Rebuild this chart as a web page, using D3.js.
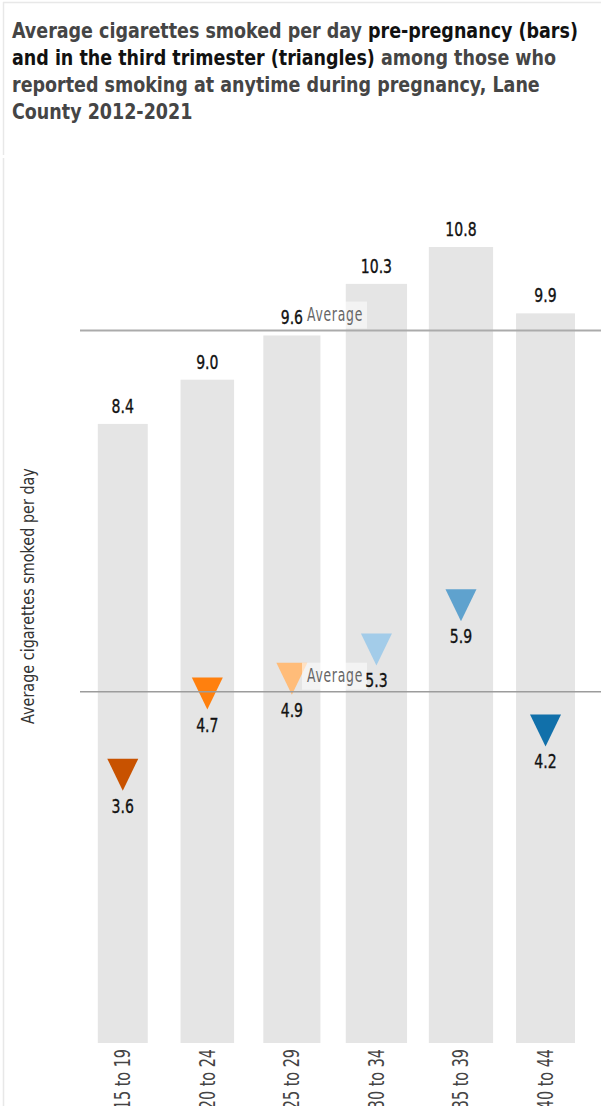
<!DOCTYPE html>
<html>
<head>
<meta charset="utf-8">
<script src="https://cdn.jsdelivr.net/npm/d3@7"></script>
<style>
  html, body { margin: 0; padding: 0; background: #fff; }
  svg { display: block; }
  text { font-family: "DejaVu Sans", "Liberation Sans", sans-serif; font-stretch: condensed; }
</style>
</head>
<body>
<svg id="chart" width="601" height="1106"></svg>
<script>
// Age groups and average cigarettes per day
const ageGroups = ["15 to 19", "20 to 24", "25 to 29", "30 to 34", "35 to 39", "40 to 44"];
const prePregnancy = [8.4, 9.0, 9.6, 10.3, 10.8, 9.9];
const thirdTrimester = [3.6, 4.7, 4.9, 5.3, 5.9, 4.2];
const triangleColors = ["#c85200", "#ff800e", "#ffbc79", "#a3cce9", "#5fa2ce", "#1170aa"];
const yTicks = [0, 12];

const titleLines = [
  [["Average cigarettes smoked per day ", "#454545"], ["pre-pregnancy (bars)", "#111"]],
  [["and in the third trimester (triangles)", "#111"], [" among those who", "#454545"]],
  [["reported smoking at anytime during pregnancy, Lane", "#454545"]],
  [["County 2012-2021", "#454545"]]
];

const svg = d3.select("#chart");

// narrow a text horizontally around its own anchor point
function squeeze(sel, s) {
  sel.each(function () {
    const t = d3.select(this);
    const x = +t.attr("x") || 0, y = +t.attr("y") || 0;
    const prev = t.attr("transform") || "";
    t.attr("transform", `${prev} translate(${x},${y}) scale(${s},1) translate(${-x},${-y})`);
  });
}
// squeeze a text so its width becomes w
function fitWidth(sel, w) {
  sel.each(function () {
    squeeze(d3.select(this), w / this.getComputedTextLength());
  });
}

// frame lines around title and chart panes
svg.append("line").attr("x1", 3).attr("x2", 601).attr("y1", 2.5).attr("y2", 2.5)
  .attr("stroke", "#e8e8e8").attr("stroke-width", 1.5);
svg.append("line").attr("x1", 3.5).attr("x2", 3.5).attr("y1", 2).attr("y2", 155)
  .attr("stroke", "#e8e8e8").attr("stroke-width", 1.5);
svg.append("line").attr("x1", 3.5).attr("x2", 3.5).attr("y1", 158).attr("y2", 1106)
  .attr("stroke", "#e8e8e8").attr("stroke-width", 1.5);

// title
const title = svg.append("g");
const titleTexts = titleLines.map((parts, i) => {
  const t = title.append("text")
    .attr("x", 12).attr("y", 38 + i * 27)
    .attr("font-weight", "bold").attr("font-size", 21.5);
  parts.forEach(([s, c]) => t.append("tspan").attr("fill", c).text(s));
  return t;
});
const titleScale = 566 / titleTexts[0].node().getComputedTextLength();
titleTexts.forEach(t => squeeze(t, titleScale));

// scales
const x = d3.scaleBand().domain(ageGroups).range([80.5, 587.8]).padding(0);
const y = d3.scaleLinear().domain(d3.extent(yTicks)).range([1043, 158.6]);
const barWidth = d3.scaleLinear().domain([0, 1]).range([0, 5.95]);
const cx = d => x(d) + x.bandwidth() / 2;

const plot = svg.append("g");

// bars: pre-pregnancy averages (width also scaled by value)
plot.selectAll("rect.bar").data(ageGroups).join("rect")
  .attr("class", "bar")
  .attr("x", (d, i) => cx(d) - barWidth(prePregnancy[i]) / 2)
  .attr("width", (d, i) => barWidth(prePregnancy[i]))
  .attr("y", (d, i) => y(prePregnancy[i]))
  .attr("height", (d, i) => y(0) - y(prePregnancy[i]))
  .attr("fill", "#e5e5e5");

// triangles: third-trimester averages
const triW = 31, triH = 32;
plot.selectAll("path.tri").data(ageGroups).join("path")
  .attr("class", "tri")
  .attr("d", (d, i) => {
    const px = cx(d), top = y(thirdTrimester[i]) - 19;
    return `M${px - triW / 2},${top}L${px + triW / 2},${top}L${px},${top + triH}Z`;
  })
  .attr("fill", (d, i) => triangleColors[i]);

// reference lines at the average of each series
const avgPre = d3.mean(prePregnancy);
const avgTri = d3.mean(thirdTrimester);
[[avgPre, "#ababab", 2], [avgTri, "#9c9c9c", 1.5]].forEach(([v, c, w]) => {
  plot.append("line")
    .attr("x1", 80).attr("x2", 601)
    .attr("y1", y(v)).attr("y2", y(v))
    .attr("stroke", c).attr("stroke-width", w);
});

// reference line labels
[avgPre, avgTri].forEach(v => {
  const ly = y(v);
  plot.append("rect")
    .attr("x", 302).attr("y", ly - 29).attr("width", 65).attr("height", 27)
    .attr("fill", "#fff").attr("fill-opacity", 0.55);
  const t = plot.append("text")
    .attr("x", 363).attr("y", ly - 9.5)
    .attr("text-anchor", "end")
    .attr("font-size", 19).attr("letter-spacing", 1)
    .attr("fill", "#666")
    .text("Average");
  fitWidth(t, 56);
});

// bar value labels
const barLabels = plot.selectAll("text.barlab").data(ageGroups).join("text")
  .attr("class", "barlab")
  .attr("x", d => cx(d)).attr("y", (d, i) => y(prePregnancy[i]) - 11)
  .attr("text-anchor", "middle").attr("font-size", 20).attr("fill", "#111")
  .attr("stroke", "#111").attr("stroke-width", 0.35)
  .text((d, i) => prePregnancy[i].toFixed(1));
squeeze(barLabels, 0.78);

// triangle value labels
const triLabels = plot.selectAll("text.trilab").data(ageGroups).join("text")
  .attr("class", "trilab")
  .attr("x", d => cx(d)).attr("y", (d, i) => y(thirdTrimester[i]) + 35)
  .attr("text-anchor", "middle").attr("font-size", 20).attr("fill", "#111")
  .attr("stroke", "#111").attr("stroke-width", 0.35)
  .text((d, i) => thirdTrimester[i].toFixed(1));
squeeze(triLabels, 0.78);

// x axis: rotated age group labels
const xAxis = svg.append("g")
  .attr("transform", `translate(0,${y(0)})`)
  .call(d3.axisBottom(x).tickSize(0).tickPadding(0));
xAxis.select(".domain").remove();
const tickText = xAxis.selectAll(".tick text")
  .attr("font-family", null).attr("font-size", 20.5).attr("fill", "#444")
  .attr("text-anchor", "end")
  .attr("dy", null).attr("y", 0)
  .attr("transform", "translate(7.5,6) rotate(-90)");
squeeze(tickText, 0.78);

// y axis title
const yTitle = svg.append("text")
  .attr("transform", "translate(34,596) rotate(-90)")
  .attr("text-anchor", "middle")
  .attr("font-size", 17).attr("fill", "#333")
  .text("Average cigarettes smoked per day");
fitWidth(yTitle, 256);
</script>
</body>
</html>
